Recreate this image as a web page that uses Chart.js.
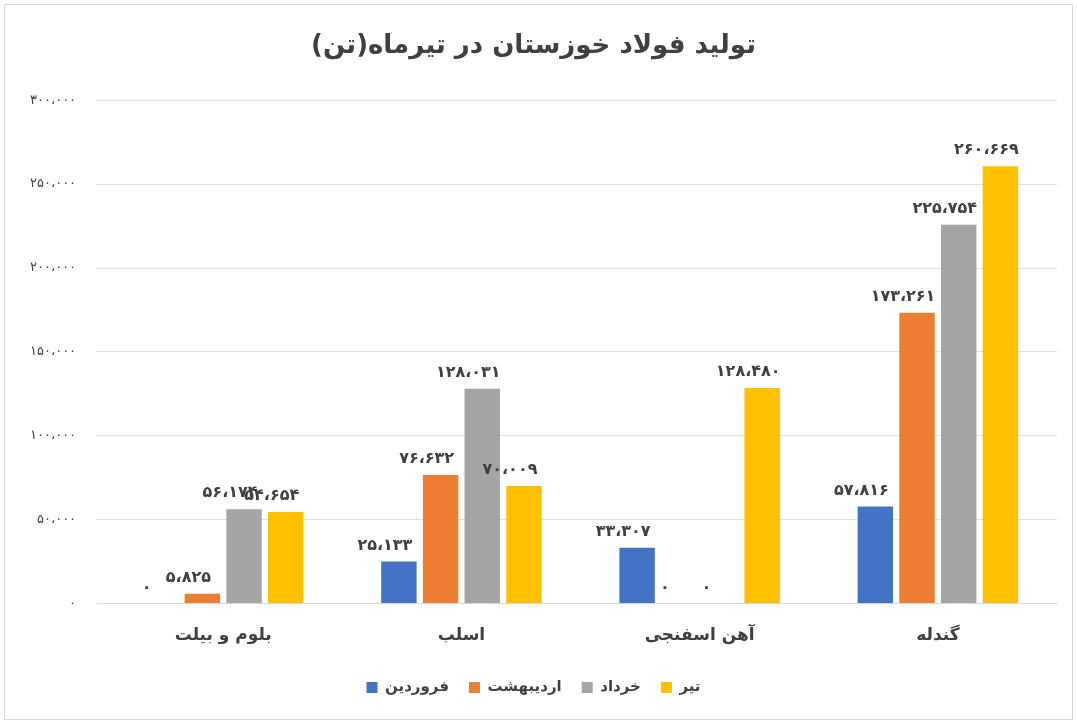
<!DOCTYPE html>
<html lang="fa">
<head>
<meta charset="UTF-8">
<script src="https://cdn.jsdelivr.net/npm/chart.js"></script>
<style>
  body { margin: 0; background: #fff; }
  #wrap { position: absolute; left: 4px; top: 4px; width: 1067px; height: 714px; border: 1px solid #d9d9d9; }
</style>
</head>
<body>
<div id="wrap"><canvas id="c"></canvas></div>
<script>
const categories = ['بلوم و بیلت', 'اسلب', 'آهن اسفنجی', 'گندله'];
const farvardin = [0, 25133, 33307, 57816];
const ordibehesht = [5825, 76632, 0, 173261];
const khordad = [56174, 128031, 0, 225754];
const tir = [54654, 70009, 128480, 260669];
const seriesNames = ['فروردین', 'اردیبهشت', 'خرداد', 'تیر'];
const colors = ['#4472C4', '#ED7D31', '#A5A5A5', '#FFC000'];

function fa(n) {
  const s = Math.round(n).toString().replace(/\B(?=(\d{3})+(?!\d))/g, '،');
  return s.replace(/\d/g, d => '۰۱۲۳۴۵۶۷۸۹'[d]);
}

const labelPlugin = {
  id: 'labels',
  afterDatasetsDraw(chart) {
    const ctx = chart.ctx;
    ctx.save();
    ctx.font = 'bold 16px "DejaVu Sans"';
    ctx.fillStyle = '#404040';
    ctx.textAlign = 'center';
    ctx.textBaseline = 'bottom';
    chart.data.datasets.forEach((ds, i) => {
      chart.getDatasetMeta(i).data.forEach((bar, j) => {
        ctx.fillText(fa(ds.data[j]), bar.x - 14, bar.y - 8);
      });
    });
    ctx.restore();
  }
};

new Chart(document.getElementById('c'), {
  type: 'bar',
  data: {
    labels: categories,
    datasets: [farvardin, ordibehesht, khordad, tir].map((d, i) => ({
      label: seriesNames[i], data: d, backgroundColor: colors[i],
      categoryPercentage: 0.7, barPercentage: 0.85
    }))
  },
  options: {
    responsive: true, maintainAspectRatio: false, animation: false,
    layout: { padding: { left: 5, right: 15, top: 8, bottom: 14 } },
    plugins: {
      title: { display: true, text: 'تولید فولاد خوزستان در تیرماه(تن)', color: '#404040',
        font: { size: 26, weight: 'bold', family: 'DejaVu Sans' }, padding: { top: 18, bottom: 38 } },
      legend: { position: 'bottom',
        labels: { boxWidth: 11, boxHeight: 11, color: '#404040', padding: 20,
          font: { size: 15, weight: 'bold', family: 'DejaVu Sans' } } }
    },
    scales: {
      x: { grid: { display: false }, border: { color: '#d9d9d9' },
        ticks: { color: '#404040', padding: 14, font: { size: 17, weight: 'bold', family: 'DejaVu Sans' } } },
      y: { min: 0, max: 300000, ticks: { stepSize: 50000, color: '#404040', padding: 20,
          callback: v => fa(v), font: { size: 13, family: 'DejaVu Sans' } },
        grid: { color: '#e0e0e0' }, border: { display: false } }
    }
  },
  plugins: [labelPlugin]
});
</script>
</body>
</html>
